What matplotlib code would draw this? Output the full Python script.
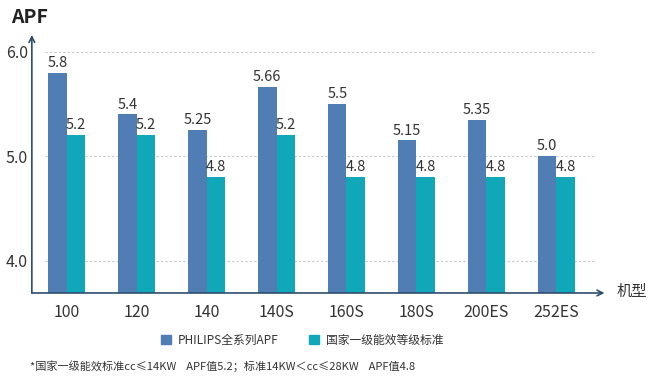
import matplotlib
matplotlib.use("Agg")
import matplotlib.pyplot as plt
import numpy as np
from matplotlib.patches import Patch

plt.rcParams['font.family'] = ['Noto Sans CJK SC', 'DejaVu Sans']

categories = ["100", "120", "140", "140S", "160S", "180S", "200ES", "252ES"]
philips = [5.8, 5.4, 5.25, 5.66, 5.5, 5.15, 5.35, 5.0]
philips_labels = ["5.8", "5.4", "5.25", "5.66", "5.5", "5.15", "5.35", "5.0"]
national = [5.2, 5.2, 4.8, 5.2, 4.8, 4.8, 4.8, 4.8]
national_labels = ["5.2", "5.2", "4.8", "5.2", "4.8", "4.8", "4.8", "4.8"]
yticks = [4.0, 5.0, 6.0]
series_names = ["PHILIPS全系列APF", "国家一级能效等级标准"]

blue = "#4f7db4"
teal = "#10a7b9"
axis_col = "#2e4d6e"
text_col = "#333333"

fig = plt.figure(figsize=(6.5, 3.8), dpi=100)
ax = fig.add_axes([0.049, 0.229, 0.881, 0.679])

x = np.arange(len(categories))
w = 0.265
b1 = ax.bar(x - w/2, philips, w, color=blue, bottom=0)
b2 = ax.bar(x + w/2, national, w, color=teal, bottom=0)

for rect, lab in zip(b1, philips_labels):
    ax.annotate(lab, (rect.get_x() + rect.get_width()/2, rect.get_height()),
                xytext=(0, 2), textcoords="offset points", ha="center", va="bottom",
                fontsize=10.5, color=text_col)
for rect, lab in zip(b2, national_labels):
    ax.annotate(lab, (rect.get_x() + rect.get_width()/2, rect.get_height()),
                xytext=(0, 2), textcoords="offset points", ha="center", va="bottom",
                fontsize=10.5, color=text_col)

ax.set_xlim(-0.5, 7.69)
ax.set_ylim(3.69, 6.16)

for yv in yticks:
    ax.plot([-0.31, 7.55], [yv, yv], ls=(0, (2, 2)), color="#c8c8c8", lw=0.8, zorder=0)

ax.set_yticks(yticks)
ax.set_yticklabels([f"{v:.1f}" for v in yticks], fontsize=11.5, color=text_col)
ax.set_xticks(x)
ax.set_xticklabels(categories, fontsize=11.5, color=text_col)
ax.tick_params(length=0)
ax.tick_params(axis='x', pad=8)
ax.tick_params(axis='y', pad=3)

for s in ["top", "right", "left", "bottom"]:
    ax.spines[s].set_visible(False)

# axes with arrows
ax.annotate("", xy=(0, 1.0), xycoords="axes fraction", xytext=(0, 0),
            arrowprops=dict(arrowstyle="->", color=axis_col, lw=1.2, shrinkA=0, shrinkB=0))
ax.annotate("", xy=(1.0, 0), xycoords="axes fraction", xytext=(0, 0),
            arrowprops=dict(arrowstyle="->", color=axis_col, lw=1.2, shrinkA=0, shrinkB=0))

fig.text(0.017, 0.955, "APF", fontsize=14, color="#222222", va="center", ha="left",
         fontweight="bold")
fig.text(0.948, 0.234, "机型", fontsize=11, color=text_col, va="center", ha="left")

handles = [Patch(color=blue), Patch(color=teal)]
fig.legend(handles, series_names, loc="center", bbox_to_anchor=(0.465, 0.105), ncol=2,
           frameon=False, fontsize=8.5, handlelength=0.8, handleheight=0.8,
           columnspacing=2.6, handletextpad=0.6, labelcolor=text_col)

fig.text(0.046, 0.036, "*国家一级能效标准cc≤14KW    APF值5.2；标准14KW＜cc≤28KW    APF值4.8",
         fontsize=8, color=text_col, va="center", ha="left")

fig.savefig("out.png", dpi=100)
